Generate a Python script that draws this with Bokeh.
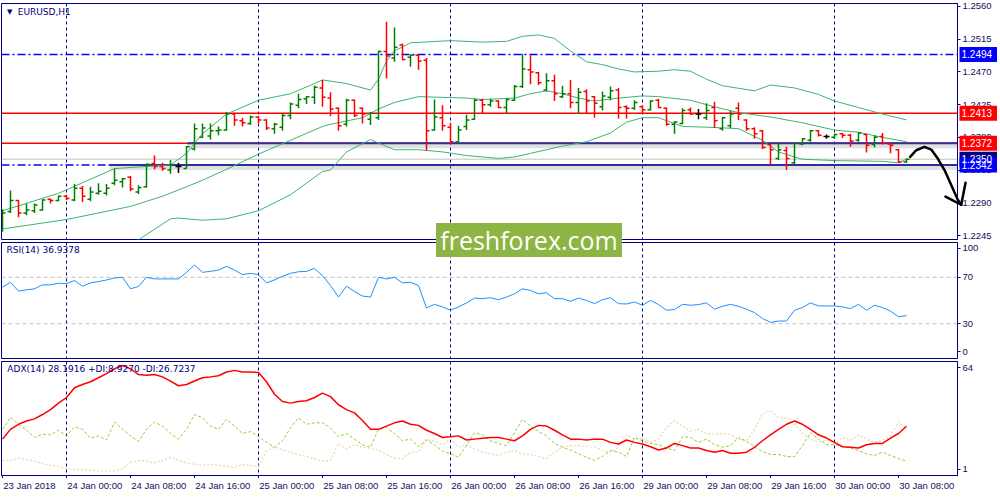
import numpy as np
from bokeh.plotting import figure
from bokeh.models import (Range1d, FixedTicker, Span, Label, Div,
                          ColumnDataSource, PrintfTickFormatter)
from bokeh.layouts import column, row
from bokeh.embed import file_html
from bokeh.resources import INLINE

# ---------------- data (EURUSD H1, 23 Jan 16:00 -> 30 Jan 09:00) ----------------
opens = [1.2253, 1.2278, 1.2293, 1.2276, 1.2279, 1.2280, 1.2295, 1.2293, 1.2299, 1.2294,
         1.2310, 1.2295, 1.2303, 1.2303, 1.2317, 1.2319, 1.2325, 1.2305, 1.2312, 1.2344,
         1.2340, 1.2335, 1.2340, 1.2337, 1.2364, 1.2380, 1.2382, 1.2389, 1.2390, 1.2412,
         1.2403, 1.2399, 1.2408, 1.2404, 1.2392, 1.2394, 1.2410, 1.2424, 1.2433, 1.2435,
         1.2448, 1.2434, 1.2420, 1.2398, 1.2431, 1.2420, 1.2405, 1.2407, 1.2498, 1.2489,
         1.2507, 1.2490, 1.2493, 1.2486, 1.2390, 1.2407, 1.2394, 1.2374, 1.2395, 1.2405,
         1.2431, 1.2425, 1.2430, 1.2421, 1.2431, 1.2450, 1.2473, 1.2469, 1.2445, 1.2458,
         1.2436, 1.2440, 1.2428, 1.2443, 1.2436, 1.2422, 1.2435, 1.2445, 1.2422, 1.2420,
         1.2422, 1.2418, 1.2431, 1.2420, 1.2398, 1.2399, 1.2418, 1.2412, 1.2407, 1.2421,
         1.2392, 1.2396, 1.2420, 1.2404, 1.2392, 1.2389, 1.2370, 1.2351, 1.2362, 1.2345,
         1.2371, 1.2376, 1.2389, 1.2381, 1.2380, 1.2385, 1.2383, 1.2376, 1.2384, 1.2370,
         1.2381, 1.2371, 1.2363, 1.2346]
highs = [1.2281, 1.2307, 1.2294, 1.2289, 1.2289, 1.2295, 1.2296, 1.2300, 1.2301, 1.2316,
         1.2313, 1.2312, 1.2317, 1.2316, 1.2337, 1.2324, 1.2327, 1.2314, 1.2344, 1.2355,
         1.2345, 1.2349, 1.2345, 1.2368, 1.2399, 1.2399, 1.2399, 1.2395, 1.2415, 1.2414,
         1.2407, 1.2410, 1.2409, 1.2405, 1.2400, 1.2412, 1.2428, 1.2440, 1.2437, 1.2451,
         1.2459, 1.2442, 1.2421, 1.2433, 1.2432, 1.2421, 1.2415, 1.2499, 1.2539, 1.2531,
         1.2509, 1.2494, 1.2494, 1.2489, 1.2432, 1.2424, 1.2400, 1.2396, 1.2411, 1.2433,
         1.2433, 1.2433, 1.2431, 1.2433, 1.2452, 1.2495, 1.2493, 1.2470, 1.2468, 1.2466,
         1.2451, 1.2459, 1.2448, 1.2446, 1.2437, 1.2443, 1.2450, 1.2448, 1.2424, 1.2431,
         1.2424, 1.2431, 1.2433, 1.2421, 1.2402, 1.2420, 1.2421, 1.2419, 1.2427, 1.2429,
         1.2408, 1.2417, 1.2428, 1.2405, 1.2394, 1.2390, 1.2371, 1.2372, 1.2367, 1.2372,
         1.2379, 1.2390, 1.2390, 1.2384, 1.2385, 1.2386, 1.2385, 1.2387, 1.2385, 1.2383,
         1.2386, 1.2373, 1.2364, 1.2351]
lows = [1.2250, 1.2276, 1.2270, 1.2273, 1.2276, 1.2279, 1.2289, 1.2292, 1.2294, 1.2292,
        1.2291, 1.2292, 1.2301, 1.2300, 1.2314, 1.2311, 1.2306, 1.2302, 1.2311, 1.2336,
        1.2334, 1.2330, 1.2331, 1.2337, 1.2362, 1.2379, 1.2377, 1.2383, 1.2389, 1.2396,
        1.2395, 1.2397, 1.2399, 1.2390, 1.2385, 1.2389, 1.2405, 1.2420, 1.2426, 1.2426,
        1.2422, 1.2409, 1.2389, 1.2395, 1.2408, 1.2399, 1.2397, 1.2404, 1.2461, 1.2484,
        1.2486, 1.2477, 1.2473, 1.2362, 1.2389, 1.2389, 1.2370, 1.2372, 1.2390, 1.2404,
        1.2412, 1.2422, 1.2420, 1.2412, 1.2430, 1.2448, 1.2453, 1.2452, 1.2443, 1.2430,
        1.2434, 1.2420, 1.2412, 1.2413, 1.2407, 1.2417, 1.2431, 1.2406, 1.2406, 1.2418,
        1.2414, 1.2417, 1.2420, 1.2396, 1.2385, 1.2398, 1.2411, 1.2405, 1.2404, 1.2393,
        1.2389, 1.2393, 1.2404, 1.2389, 1.2378, 1.2364, 1.2343, 1.2349, 1.2335, 1.2343,
        1.2369, 1.2374, 1.2381, 1.2378, 1.2378, 1.2379, 1.2367, 1.2374, 1.2359, 1.2366,
        1.2370, 1.2358, 1.2345, 1.2345]
closes = [1.2276, 1.2293, 1.2276, 1.2280, 1.2287, 1.2294, 1.2293, 1.2299, 1.2296, 1.2310,
          1.2299, 1.2305, 1.2306, 1.2310, 1.2321, 1.2323, 1.2309, 1.2311, 1.2343, 1.2340,
          1.2337, 1.2342, 1.2340, 1.2367, 1.2392, 1.2393, 1.2389, 1.2390, 1.2412, 1.2404,
          1.2400, 1.2408, 1.2404, 1.2393, 1.2398, 1.2410, 1.2426, 1.2432, 1.2436, 1.2449,
          1.2435, 1.2419, 1.2396, 1.2431, 1.2410, 1.2412, 1.2413, 1.2498, 1.2492, 1.2504,
          1.2487, 1.2493, 1.2485, 1.2389, 1.2408, 1.2396, 1.2374, 1.2390, 1.2404, 1.2431,
          1.2425, 1.2430, 1.2421, 1.2432, 1.2450, 1.2474, 1.2470, 1.2455, 1.2458, 1.2440,
          1.2440, 1.2428, 1.2442, 1.2430, 1.2427, 1.2437, 1.2444, 1.2421, 1.2420, 1.2428,
          1.2418, 1.2430, 1.2421, 1.2398, 1.2401, 1.2417, 1.2412, 1.2412, 1.2417, 1.2403,
          1.2407, 1.2412, 1.2412, 1.2392, 1.2385, 1.2366, 1.2363, 1.2363, 1.2351, 1.2372,
          1.2378, 1.2389, 1.2383, 1.2381, 1.2384, 1.2383, 1.2375, 1.2386, 1.2369, 1.2380,
          1.2372, 1.2369, 1.2346, 1.2350]

# Bollinger bands (read at sampled bars)
bb_up_idx = [0, 7, 14, 18, 21, 23, 25, 28, 32, 36, 39, 40, 43, 46, 47, 48, 49, 51, 56, 60,
             63, 65, 67, 69, 71, 73, 75, 77, 79, 82, 84, 86, 88, 90, 94, 96, 99, 102, 104,
             107, 110, 113]
bb_up = [1.2279, 1.2303, 1.2337, 1.2340, 1.2342, 1.2358, 1.2385, 1.2412, 1.2431, 1.2440,
         1.2454, 1.2459, 1.2454, 1.2445, 1.2460, 1.2485, 1.2499, 1.2510, 1.2513, 1.2511,
         1.2512, 1.2519, 1.2521, 1.2516, 1.2499, 1.2484, 1.2480, 1.2474, 1.2470, 1.2471,
         1.2473, 1.2471, 1.2460, 1.2451, 1.2444, 1.2452, 1.2448, 1.2439, 1.2430, 1.2421,
         1.2412, 1.2404]
bb_mid_idx = [0, 8, 16, 20, 23, 25, 28, 32, 36, 40, 41, 45, 47, 49, 52, 55, 58, 60, 64, 66,
              68, 70, 72, 74, 77, 80, 82, 86, 89, 92, 96, 100, 104, 107, 110, 113]
bb_mid = [1.2254, 1.2267, 1.2285, 1.2299, 1.2312, 1.2321, 1.2336, 1.2357, 1.2376, 1.2395,
          1.2398, 1.2407, 1.2419, 1.2428, 1.2436, 1.2435, 1.2434, 1.2432, 1.2434, 1.2440,
          1.2444, 1.2440, 1.2434, 1.2430, 1.2434, 1.2437, 1.2436, 1.2431, 1.2422, 1.2414,
          1.2408, 1.2400, 1.2390, 1.2387, 1.2380, 1.2374]
bb_low_idx = [16, 17, 21, 22, 25, 28, 32, 36, 40, 41, 43, 46, 47, 49, 52, 55, 58, 62, 64, 66,
              70, 73, 76, 78, 80, 82, 85, 88, 92, 95, 97, 99, 100, 104, 110, 112, 113]
bb_low = [1.2235, 1.2239, 1.2268, 1.2269, 1.2266, 1.2268, 1.2279, 1.2301, 1.2333, 1.2335,
          1.2360, 1.2377, 1.2372, 1.2363, 1.2363, 1.2360, 1.2355, 1.2351, 1.2353, 1.2358,
          1.2368, 1.2374, 1.2386, 1.2401, 1.2407, 1.2407, 1.2395, 1.2394, 1.2392, 1.2376,
          1.2360, 1.2353, 1.2350, 1.2348, 1.2347, 1.2345, 1.2350]

rsi = [61.5, 65.7, 58.1, 59.2, 60.1, 63.5, 63.5, 64.9, 64.6, 67.2,
       62.3, 65.2, 66.3, 67.7, 69.4, 70.0, 60.1, 62.1, 70.0, 68.6,
       68.6, 68.6, 68.6, 74.3, 80.5, 74.3, 75.1, 76.2, 79.4, 76.2,
       72.3, 73.4, 72.3, 65.2, 67.7, 70.9, 73.4, 74.8, 75.1, 77.7,
       71.4, 62.9, 53.0, 62.3, 57.8, 53.8, 53.0, 70.0, 68.6, 70.0,
       65.2, 65.7, 62.9, 43.6, 46.7, 44.5, 41.6, 44.5, 47.9, 52.1,
       51.6, 52.4, 50.7, 53.0, 55.8, 60.1, 58.7, 55.8, 56.7, 51.6,
       51.6, 49.3, 52.1, 50.1, 47.3, 50.7, 52.4, 47.3, 47.0, 48.7,
       45.9, 50.1, 46.5, 41.6, 42.2, 46.7, 45.9, 46.5, 47.9, 42.5,
       45.0, 46.7, 45.0, 42.5, 39.6, 34.5, 31.1, 32.3, 32.3, 41.6,
       43.9, 47.9, 45.3, 45.3, 45.3, 44.5, 43.0, 46.7, 41.6, 45.9,
       43.9, 40.8, 36.0, 36.9]
adx = [21.1, 26.5, 29.3, 31.1, 32.3, 34.7, 37.4, 41.0, 44.1, 49.5,
       51.3, 52.8, 55.0, 57.3, 60.0, 61.8, 60.0, 56.8, 56.4, 56.8,
       55.5, 53.2, 50.6, 51.3, 53.2, 55.0, 55.5, 56.1, 58.2, 59.1,
       58.2, 58.2, 57.9, 52.8, 45.9, 41.9, 41.0, 41.9, 42.3, 44.1,
       46.5, 44.6, 40.1, 37.4, 35.6, 31.4, 26.5, 26.5, 28.3, 30.1,
       31.1, 29.3, 28.7, 26.0, 24.2, 22.0, 22.4, 22.9, 20.6, 21.1,
       21.6, 22.0, 22.0, 21.1, 20.2, 22.9, 26.5, 28.7, 28.3, 26.0,
       23.5, 21.1, 21.1, 20.6, 21.1, 21.1, 19.3, 18.4, 20.6, 19.3,
       18.4, 16.9, 15.1, 16.2, 18.7, 17.5, 16.2, 16.2, 14.8, 13.9,
       14.8, 13.3, 13.3, 13.9, 16.6, 20.2, 23.5, 26.5, 29.3, 31.1,
       29.3, 26.5, 23.5, 21.7, 19.3, 16.9, 16.6, 16.2, 18.0, 18.7,
       18.7, 21.7, 24.2, 28.2]
plus_di = [26.5, 33.2, 29.3, 26.0, 22.0, 23.8, 23.5, 26.0, 22.9, 27.8,
           26.5, 21.6, 22.9, 20.6, 30.5, 26.5, 22.9, 19.8, 26.5, 30.5,
           28.3, 24.2, 21.1, 26.5, 34.7, 32.9, 28.3, 26.5, 32.0, 28.3,
           24.2, 25.3, 22.4, 19.3, 16.6, 20.2, 27.4, 32.9, 29.3, 30.1,
           30.1, 27.4, 22.4, 24.2, 21.1, 18.0, 16.6, 26.5, 27.4, 24.2,
           20.2, 21.1, 17.0, 20.6, 18.0, 14.4, 13.0, 11.1, 17.5, 24.7,
           23.5, 20.2, 18.7, 17.5, 24.7, 32.0, 28.3, 25.3, 22.9, 18.7,
           16.6, 15.1, 13.0, 11.1, 9.3, 11.5, 14.8, 13.9, 11.5, 22.0,
           20.2, 18.7, 18.0, 16.2, 14.8, 22.5, 22.0, 19.3, 21.1, 18.0,
           16.6, 17.5, 22.0, 19.8, 16.9, 14.2, 12.6, 12.6, 11.5, 11.5,
           17.5, 24.7, 21.1, 18.0, 18.0, 16.9, 16.2, 14.8, 13.0, 12.1,
           13.9, 12.1, 10.3, 8.9]
minus_di = [9.3, 9.3, 10.6, 9.7, 9.0, 7.5, 6.6, 6.1, 4.8, 4.3,
            4.3, 3.9, 3.5, 3.5, 3.5, 4.8, 8.4, 9.3, 9.0, 7.9,
            9.3, 11.1, 9.3, 7.9, 7.2, 6.6, 7.2, 6.6, 6.1, 5.4,
            7.2, 6.6, 6.1, 14.4, 16.9, 15.1, 13.9, 12.4, 11.5, 10.3,
            9.0, 9.3, 18.7, 15.6, 18.0, 16.6, 16.0, 14.8, 12.6, 10.6,
            10.3, 13.9, 13.9, 21.1, 19.8, 18.0, 21.1, 16.9, 18.0, 15.6,
            13.9, 13.0, 12.1, 13.9, 14.8, 13.0, 12.6, 11.5, 10.3, 13.9,
            16.6, 17.5, 17.5, 16.9, 16.9, 14.8, 13.9, 16.6, 23.5, 21.1,
            22.0, 19.3, 21.1, 27.4, 31.4, 28.3, 25.3, 26.5, 24.2, 23.8,
            24.2, 23.5, 21.1, 20.2, 26.5, 35.0, 36.8, 32.9, 32.9, 30.1,
            24.2, 21.1, 19.3, 20.6, 18.4, 22.0, 20.2, 23.5, 21.1, 19.3,
            20.2, 22.9, 30.7, 26.7]

date_tick_idx = [0, 8, 16, 24, 32, 40, 48, 56, 64, 72, 80, 88, 96, 104, 112]
date_labels = ["23 Jan 2018", "24 Jan 00:00", "24 Jan 08:00", "24 Jan 16:00", "25 Jan 00:00",
               "25 Jan 08:00", "25 Jan 16:00", "26 Jan 00:00", "26 Jan 08:00", "26 Jan 16:00",
               "29 Jan 00:00", "29 Jan 08:00", "29 Jan 16:00", "30 Jan 00:00", "30 Jan 08:00"]
day_idx = [8, 32, 56, 80, 104]
price_ticks = [1.2245, 1.2290, 1.2335, 1.2380, 1.2425, 1.2470, 1.2515, 1.2560]

levels = [1.2494, 1.2413, 1.2372, 1.2342]
level_colors = ["#0000FF", "#FF0000", "#FF0000", "#0000FF"]
level_dash = ["8 3 2 3", "solid", "solid", "8 3 2 3"]
zone_levels = [1.2372, 1.2342]
zone_start = [23.1, 13.4]
bid = 1.2350
tag_levels = [1.2350, 1.2494, 1.2413, 1.2372, 1.2342]
tag_colors = ["#000080", "#0000FF", "#FF0000", "#FF0000", "#0000FF"]

arrow_x = [113.46, 114.21, 115.25, 116.09, 116.91, 117.75, 118.59, 119.41, 119.84]
arrow_y = [1.23531, 1.23623, 1.23668, 1.23632, 1.23509, 1.23350, 1.23145, 1.22941, 1.22873]
arrow_head_x = [117.88, 120.38]
arrow_head_y = [1.22986, 1.23177]

# ---------------- styling ----------------
NAVY = "#000080"
TXT = "#10105a"
UP, DOWN, DOJI = "#008000", "#FF0000", "#000000"
BB = "#3CB371"
FONT = "Liberation Sans"
LFONT = "DejaVu Sans"

n = len(closes)
x = np.arange(n)
colors = [UP if c > o else (DOWN if c < o else DOJI) for o, c in zip(opens, closes)]

FW = 956
RB = 40
X_START = -0.125
X_END = X_START + FW / 8.0
PXU = FW / (X_END - X_START)
xr = Range1d(X_START, X_END)
P_LO, P_HI = 1.22395, 1.25641
H1, H2, H3 = 236, 116, 114
yr1 = Range1d(P_LO, P_HI)

common = dict(frame_width=FW, x_range=xr, output_backend="svg", toolbar_location=None,
              tools="", min_border_left=1, min_border_right=RB, outline_line_color=NAVY,
              outline_line_width=1, background_fill_color="white", border_fill_color="white",
              y_axis_location="right")

p1 = figure(frame_height=H1, y_range=yr1, x_axis_location=None,
            min_border_top=3, min_border_bottom=1, **common)
p2 = figure(frame_height=H2, y_range=Range1d(0, 100), x_axis_location=None,
            min_border_top=2, min_border_bottom=1, **common)
p3 = figure(frame_height=H3, y_range=Range1d(1, 64), x_axis_location="below",
            min_border_top=2, min_border_bottom=0, **common)


def style_yaxis(p, ticks, overrides=None):
    p.xgrid.visible = False
    p.ygrid.visible = False
    ax = p.yaxis[0]
    ax.ticker = FixedTicker(ticks=ticks)
    if overrides:
        ax.major_label_overrides = overrides
    ax.axis_line_color = NAVY
    ax.major_tick_line_color = NAVY
    ax.minor_tick_line_color = None
    ax.major_tick_in = 0
    ax.major_tick_out = 3
    ax.major_label_standoff = 2
    ax.major_label_text_font = FONT
    ax.major_label_text_font_size = "9.5px"
    ax.major_label_text_color = TXT
    for d in day_idx:
        p.add_layout(Span(location=d, dimension="height", line_color=NAVY,
                          line_dash="3 3", line_width=1, level="underlay"))


style_yaxis(p1, price_ticks)
p1.yaxis[0].formatter = PrintfTickFormatter(format="%.4f")
style_yaxis(p2, [6, 30, 70, 95], {6: "0", 30: "30", 70: "70", 95: "100"})
style_yaxis(p3, [4.4, 60.5], {4.4: "1", 60.5: "64"})


def y_below_top(lo, hi, h, px):
    return hi - px * (hi - lo) / h


# ---- main pane ----
p1.add_layout(Span(location=bid, dimension="width", line_color="#C0C0C0",
                   line_width=1, level="underlay"))
for lv, col, dash in zip(levels, level_colors, level_dash):
    p1.add_layout(Span(location=lv, dimension="width", line_color=col, line_dash=dash,
                       line_width=1.5, level="underlay"))

shadow = 2.5 * (P_HI - P_LO) / H1
for lv, xs in zip(zone_levels, zone_start):
    p1.line([xs, X_END + 2], [lv - shadow, lv - shadow], line_color="#A8A8A8",
            line_alpha=0.35, line_width=5)
    p1.line([xs, X_END + 2], [lv, lv], line_color="#2E2E9E", line_width=2)

p1.line(bb_up_idx, bb_up, line_color=BB, line_width=1)
p1.line(bb_mid_idx, bb_mid, line_color=BB, line_width=1)
p1.line(bb_low_idx, bb_low, line_color=BB, line_width=1)

TICK = 0.38
src = ColumnDataSource(dict(x=x, o=opens, h=highs, l=lows, c=closes,
                            xa=x - TICK, xb=x + TICK, col=colors))
p1.segment("x", "l", "x", "h", source=src, line_color="col", line_width=1.5)
p1.segment("xa", "o", "x", "o", source=src, line_color="col", line_width=1.5)
p1.segment("x", "c", "xb", "c", source=src, line_color="col", line_width=1.5)

ty = y_below_top(P_LO, P_HI, H1, 8)
p1.add_layout(Label(x=0.55, y=ty, text="▼", text_font=LFONT, text_font_size="7px",
                    text_color=NAVY, text_baseline="middle", text_align="left"))
p1.add_layout(Label(x=1.9, y=ty, text="EURUSD,H1", text_font=LFONT, text_font_size="9px",
                    text_color=NAVY, text_baseline="middle", text_align="left"))


def draw_arrow(p):
    p.line(arrow_x, arrow_y, line_color="black", line_width=2.5,
           line_cap="round", line_join="round")
    p.segment(arrow_head_x, arrow_head_y, [arrow_x[-1]] * 2, [arrow_y[-1]] * 2,
              line_color="black", line_width=2.5, line_cap="round")


draw_arrow(p1)

# ---- price-scale overlay with the coloured price tags (shares the price range) ----
ptag = figure(frame_width=RB, frame_height=H1, x_range=Range1d(X_END, X_END + RB / PXU),
              y_range=yr1, x_axis_location=None, y_axis_location=None,
              output_backend="svg", toolbar_location=None, tools="",
              min_border_left=0, min_border_right=0, min_border_top=3, min_border_bottom=1,
              outline_line_color=None, background_fill_color=None, border_fill_color=None,
              margin=(0, 0, 0, -RB), styles={"z-index": "5", "position": "relative"})
ptag.xgrid.visible = False
ptag.ygrid.visible = False
draw_arrow(ptag)
tag_src = ColumnDataSource(dict(y=tag_levels, col=tag_colors,
                                txt=[f"{v:.4f}" for v in tag_levels],
                                xc=[X_END + 21 / PXU] * len(tag_levels),
                                xt=[X_END + 4 / PXU] * len(tag_levels)))
ptag.rect(x="xc", y="y", width=38, height=15, width_units="screen", height_units="screen",
          source=tag_src, fill_color="col", line_color=None)
ptag.text(x="xt", y="y", text="txt", source=tag_src, text_color="white",
          text_font_size="10px", text_baseline="middle", text_align="left",
          text_font={"value": FONT})

# ---- RSI pane ----
for lv in [30, 70]:
    p2.add_layout(Span(location=lv, dimension="width", line_color="#C0C0C0",
                       line_dash="4 3", line_width=1, level="underlay"))
p2.line(x, rsi, line_color="#1E90FF", line_width=1)
p2.add_layout(Label(x=0.5, y=y_below_top(0, 100, H2, 7.5), text="RSI(14) 36.9378",
                    text_font=LFONT, text_font_size="9px", text_color=NAVY,
                    text_baseline="middle", text_align="left"))

# ---- ADX pane ----
p3.line(x, minus_di, line_color="#EED5A5", line_width=1.2, line_dash="2 2")
p3.line(x, plus_di, line_color="#9ACD32", line_width=1, line_dash="3 2")
p3.line(x, adx, line_color="#FF0000", line_width=1.5)
p3.add_layout(Label(x=0.6, y=y_below_top(1, 64, H3, 7.5),
                    text="ADX(14) 28.1916 +DI:8.9270 -DI:26.7237",
                    text_font=LFONT, text_font_size="9px", text_color=NAVY,
                    text_baseline="middle", text_align="left"))

# time axis: tick marks on the ADX pane, left-aligned date labels in a strip below
xa = p3.xaxis[0]
xa.ticker = FixedTicker(ticks=date_tick_idx)
xa.axis_line_color = NAVY
xa.major_tick_line_color = NAVY
xa.minor_tick_line_color = None
xa.major_tick_in = 0
xa.major_tick_out = 3
xa.major_label_standoff = 0
xa.major_label_text_font_size = "0px"
xa.major_label_text_color = None

pdate = figure(frame_width=FW, frame_height=14, x_range=xr, y_range=Range1d(0, 1),
               x_axis_location=None, y_axis_location=None, output_backend="svg",
               toolbar_location=None, tools="", min_border_left=1, min_border_right=RB,
               min_border_top=0, min_border_bottom=0, outline_line_color=None,
               background_fill_color="white", border_fill_color="white")
pdate.xgrid.visible = False
pdate.ygrid.visible = False
date_src = ColumnDataSource(dict(x=[t + 0.1 for t in date_tick_idx],
                                 y=[0.9] * len(date_tick_idx), txt=date_labels))
pdate.text(x="x", y="y", text="txt", source=date_src, text_color=TXT,
           text_font_size="9.5px", text_baseline="top", text_align="left",
           text_font={"value": FONT})

# ---- watermark ----
wm = Div(text="freshforex.com", width=186, height=34, margin=(-17, 0, -17, 436),
         styles={"background-color": "#8DB543", "color": "white",
                 "font-family": "Open Sans", "font-size": "25px", "text-align": "center",
                 "line-height": "34px", "z-index": "10", "position": "relative"})

layout = column(row(p1, ptag), wm, p2, p3, pdate)
open("out.html", "w").write(file_html(layout, INLINE))
